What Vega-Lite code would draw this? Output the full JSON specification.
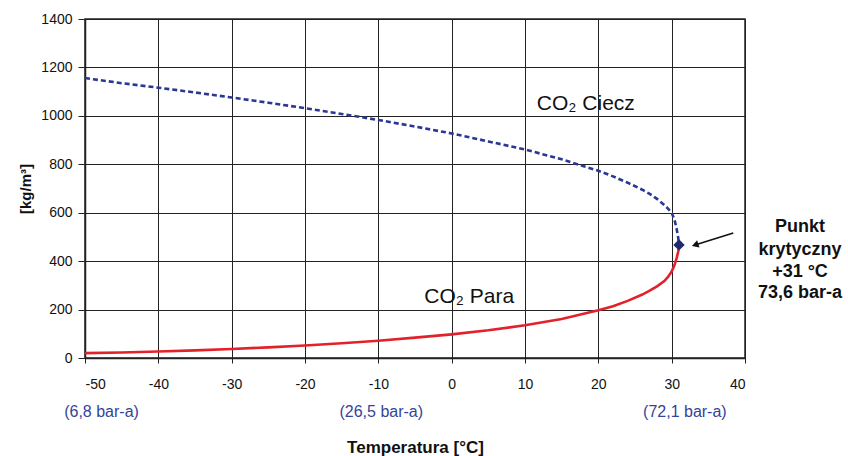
{
  "$schema": "https://vega.github.io/schema/vega-lite/v6.json",
  "width": 660,
  "height": 339,
  "autosize": "none",
  "padding": {"left": 85, "top": 19, "right": 103, "bottom": 98},
  "background": "white",
  "config": {
    "font": "Liberation Sans",
    "view": {"stroke": "#222", "strokeWidth": 1.5},
    "axis": {
      "gridColor": "#222", "gridOpacity": 1, "gridWidth": 1,
      "domainColor": "#222", "tickColor": "#222", "domainWidth": 1.5,
      "labelFont": "Liberation Sans", "labelFontSize": 14, "labelColor": "#111",
      "titleFont": "Liberation Sans", "titleFontWeight": "bold", "titleColor": "#111"
    }
  },
  "datasets": {
    "liquid": [
      {"t": -50, "rho": 1156}, {"t": -45, "rho": 1135}, {"t": -40, "rho": 1116.4},
      {"t": -35, "rho": 1096.5}, {"t": -30, "rho": 1075.8}, {"t": -25, "rho": 1054.4},
      {"t": -20, "rho": 1031.7}, {"t": -15, "rho": 1008}, {"t": -10, "rho": 982.9},
      {"t": -5, "rho": 956}, {"t": 0, "rho": 927.4}, {"t": 5, "rho": 894.4},
      {"t": 10, "rho": 861}, {"t": 15, "rho": 820.8}, {"t": 18, "rho": 792},
      {"t": 20, "rho": 773.4}, {"t": 22, "rho": 750}, {"t": 24, "rho": 724},
      {"t": 26, "rho": 695}, {"t": 27, "rho": 678}, {"t": 28, "rho": 657},
      {"t": 29, "rho": 632}, {"t": 29.5, "rho": 617}, {"t": 30, "rho": 600},
      {"t": 30.4, "rho": 570}, {"t": 30.7, "rho": 530}, {"t": 30.9, "rho": 495}, {"t": 31, "rho": 467}
    ],
    "vapor": [
      {"t": -50, "rho": 20}, {"t": -45, "rho": 23}, {"t": -40, "rho": 26.6},
      {"t": -35, "rho": 31.5}, {"t": -30, "rho": 37.4}, {"t": -25, "rho": 44},
      {"t": -20, "rho": 51.8}, {"t": -15, "rho": 61}, {"t": -10, "rho": 71.5},
      {"t": -5, "rho": 84}, {"t": 0, "rho": 97.6}, {"t": 5, "rho": 114.3},
      {"t": 10, "rho": 135.2}, {"t": 15, "rho": 161}, {"t": 20, "rho": 197},
      {"t": 22, "rho": 214}, {"t": 24, "rho": 236}, {"t": 26, "rho": 262},
      {"t": 27, "rho": 278}, {"t": 28, "rho": 296}, {"t": 29, "rho": 318},
      {"t": 29.5, "rho": 335}, {"t": 30, "rho": 357}, {"t": 30.4, "rho": 385},
      {"t": 30.7, "rho": 415}, {"t": 30.9, "rho": 440}, {"t": 31, "rho": 467}
    ],
    "critical": [{"t": 31, "rho": 467}],
    "arrow": [{"t": 38.4, "rho": 516, "t2": 33.5, "rho2": 470}],
    "arrowhead": [{"t": 33.2, "rho": 467}],
    "crittext": [
      {"t": 47.5, "rho": 541, "label": "Punkt"},
      {"t": 47.5, "rho": 446, "label": "krytyczny"},
      {"t": 47.5, "rho": 355, "label": "+31 °C"},
      {"t": 47.5, "rho": 268, "label": "73,6 bar-a"}
    ],
    "pressures": [
      {"t": -47.75, "rho": -223, "label": "(6,8 bar-a)"},
      {"t": -9.6, "rho": -223, "label": "(26,5 bar-a)"},
      {"t": 31.8, "rho": -223, "label": "(72,1 bar-a)"}
    ],
    "series": [
      {"t": 18.3, "rho": 1049, "label": "CO₂ Ciecz"},
      {"t": 2.4, "rho": 250, "label": "CO₂ Para"}
    ]
  },
  "layer": [
    {
      "data": {"name": "liquid"},
      "mark": {"type": "line", "color": "#2a3794", "strokeWidth": 2.6, "strokeDash": [5, 3]},
      "encoding": {
        "x": {"field": "t", "type": "quantitative", "scale": {"domain": [-50, 40], "nice": false},
          "axis": {"values": [-50, -40, -30, -20, -10, 0, 10, 20, 30, 40], "title": "Temperatura [°C]",
            "labelExpr": "toString(datum.value)", "titleFontSize": 17,
            "tickSize": 5, "labelPadding": 14, "titlePadding": 48}},
        "y": {"field": "rho", "type": "quantitative", "scale": {"domain": [0, 1400], "nice": false},
          "axis": {"values": [0, 200, 400, 600, 800, 1000, 1200, 1400], "title": "[kg/m³]",
            "labelExpr": "toString(datum.value)", "titleFontSize": 15,
            "tickSize": 7, "labelPadding": 6, "titlePadding": 7}},
        "order": {"field": "t", "type": "quantitative"}
      }
    },
    {
      "data": {"name": "vapor"},
      "mark": {"type": "line", "color": "#e3212b", "strokeWidth": 2.6},
      "encoding": {
        "x": {"field": "t", "type": "quantitative"},
        "y": {"field": "rho", "type": "quantitative"},
        "order": {"field": "t", "type": "quantitative"}
      }
    },
    {
      "data": {"name": "critical"},
      "mark": {"type": "point", "shape": "diamond", "filled": true, "color": "#1f2a6e", "size": 130, "opacity": 1},
      "encoding": {
        "x": {"field": "t", "type": "quantitative"},
        "y": {"field": "rho", "type": "quantitative"}
      }
    },
    {
      "data": {"name": "arrow"},
      "mark": {"type": "rule", "color": "#111", "strokeWidth": 1.6},
      "encoding": {
        "x": {"field": "t", "type": "quantitative"},
        "y": {"field": "rho", "type": "quantitative"},
        "x2": {"field": "t2"},
        "y2": {"field": "rho2"}
      }
    },
    {
      "data": {"name": "arrowhead"},
      "mark": {"type": "point", "shape": "triangle-left", "filled": true, "color": "#111", "size": 60, "opacity": 1, "angle": 342},
      "encoding": {
        "x": {"field": "t", "type": "quantitative"},
        "y": {"field": "rho", "type": "quantitative"}
      }
    },
    {
      "data": {"name": "crittext"},
      "mark": {"type": "text", "fontSize": 18, "fontWeight": "bold", "color": "#111", "align": "center", "baseline": "middle"},
      "encoding": {
        "x": {"field": "t", "type": "quantitative"},
        "y": {"field": "rho", "type": "quantitative"},
        "text": {"field": "label"}
      }
    },
    {
      "data": {"name": "pressures"},
      "mark": {"type": "text", "fontSize": 16, "color": "#34449a", "align": "center", "baseline": "middle"},
      "encoding": {
        "x": {"field": "t", "type": "quantitative"},
        "y": {"field": "rho", "type": "quantitative"},
        "text": {"field": "label"}
      }
    },
    {
      "data": {"name": "series"},
      "mark": {"type": "text", "fontSize": 21, "color": "#111", "align": "center", "baseline": "middle"},
      "encoding": {
        "x": {"field": "t", "type": "quantitative"},
        "y": {"field": "rho", "type": "quantitative"},
        "text": {"field": "label"}
      }
    }
  ]
}
